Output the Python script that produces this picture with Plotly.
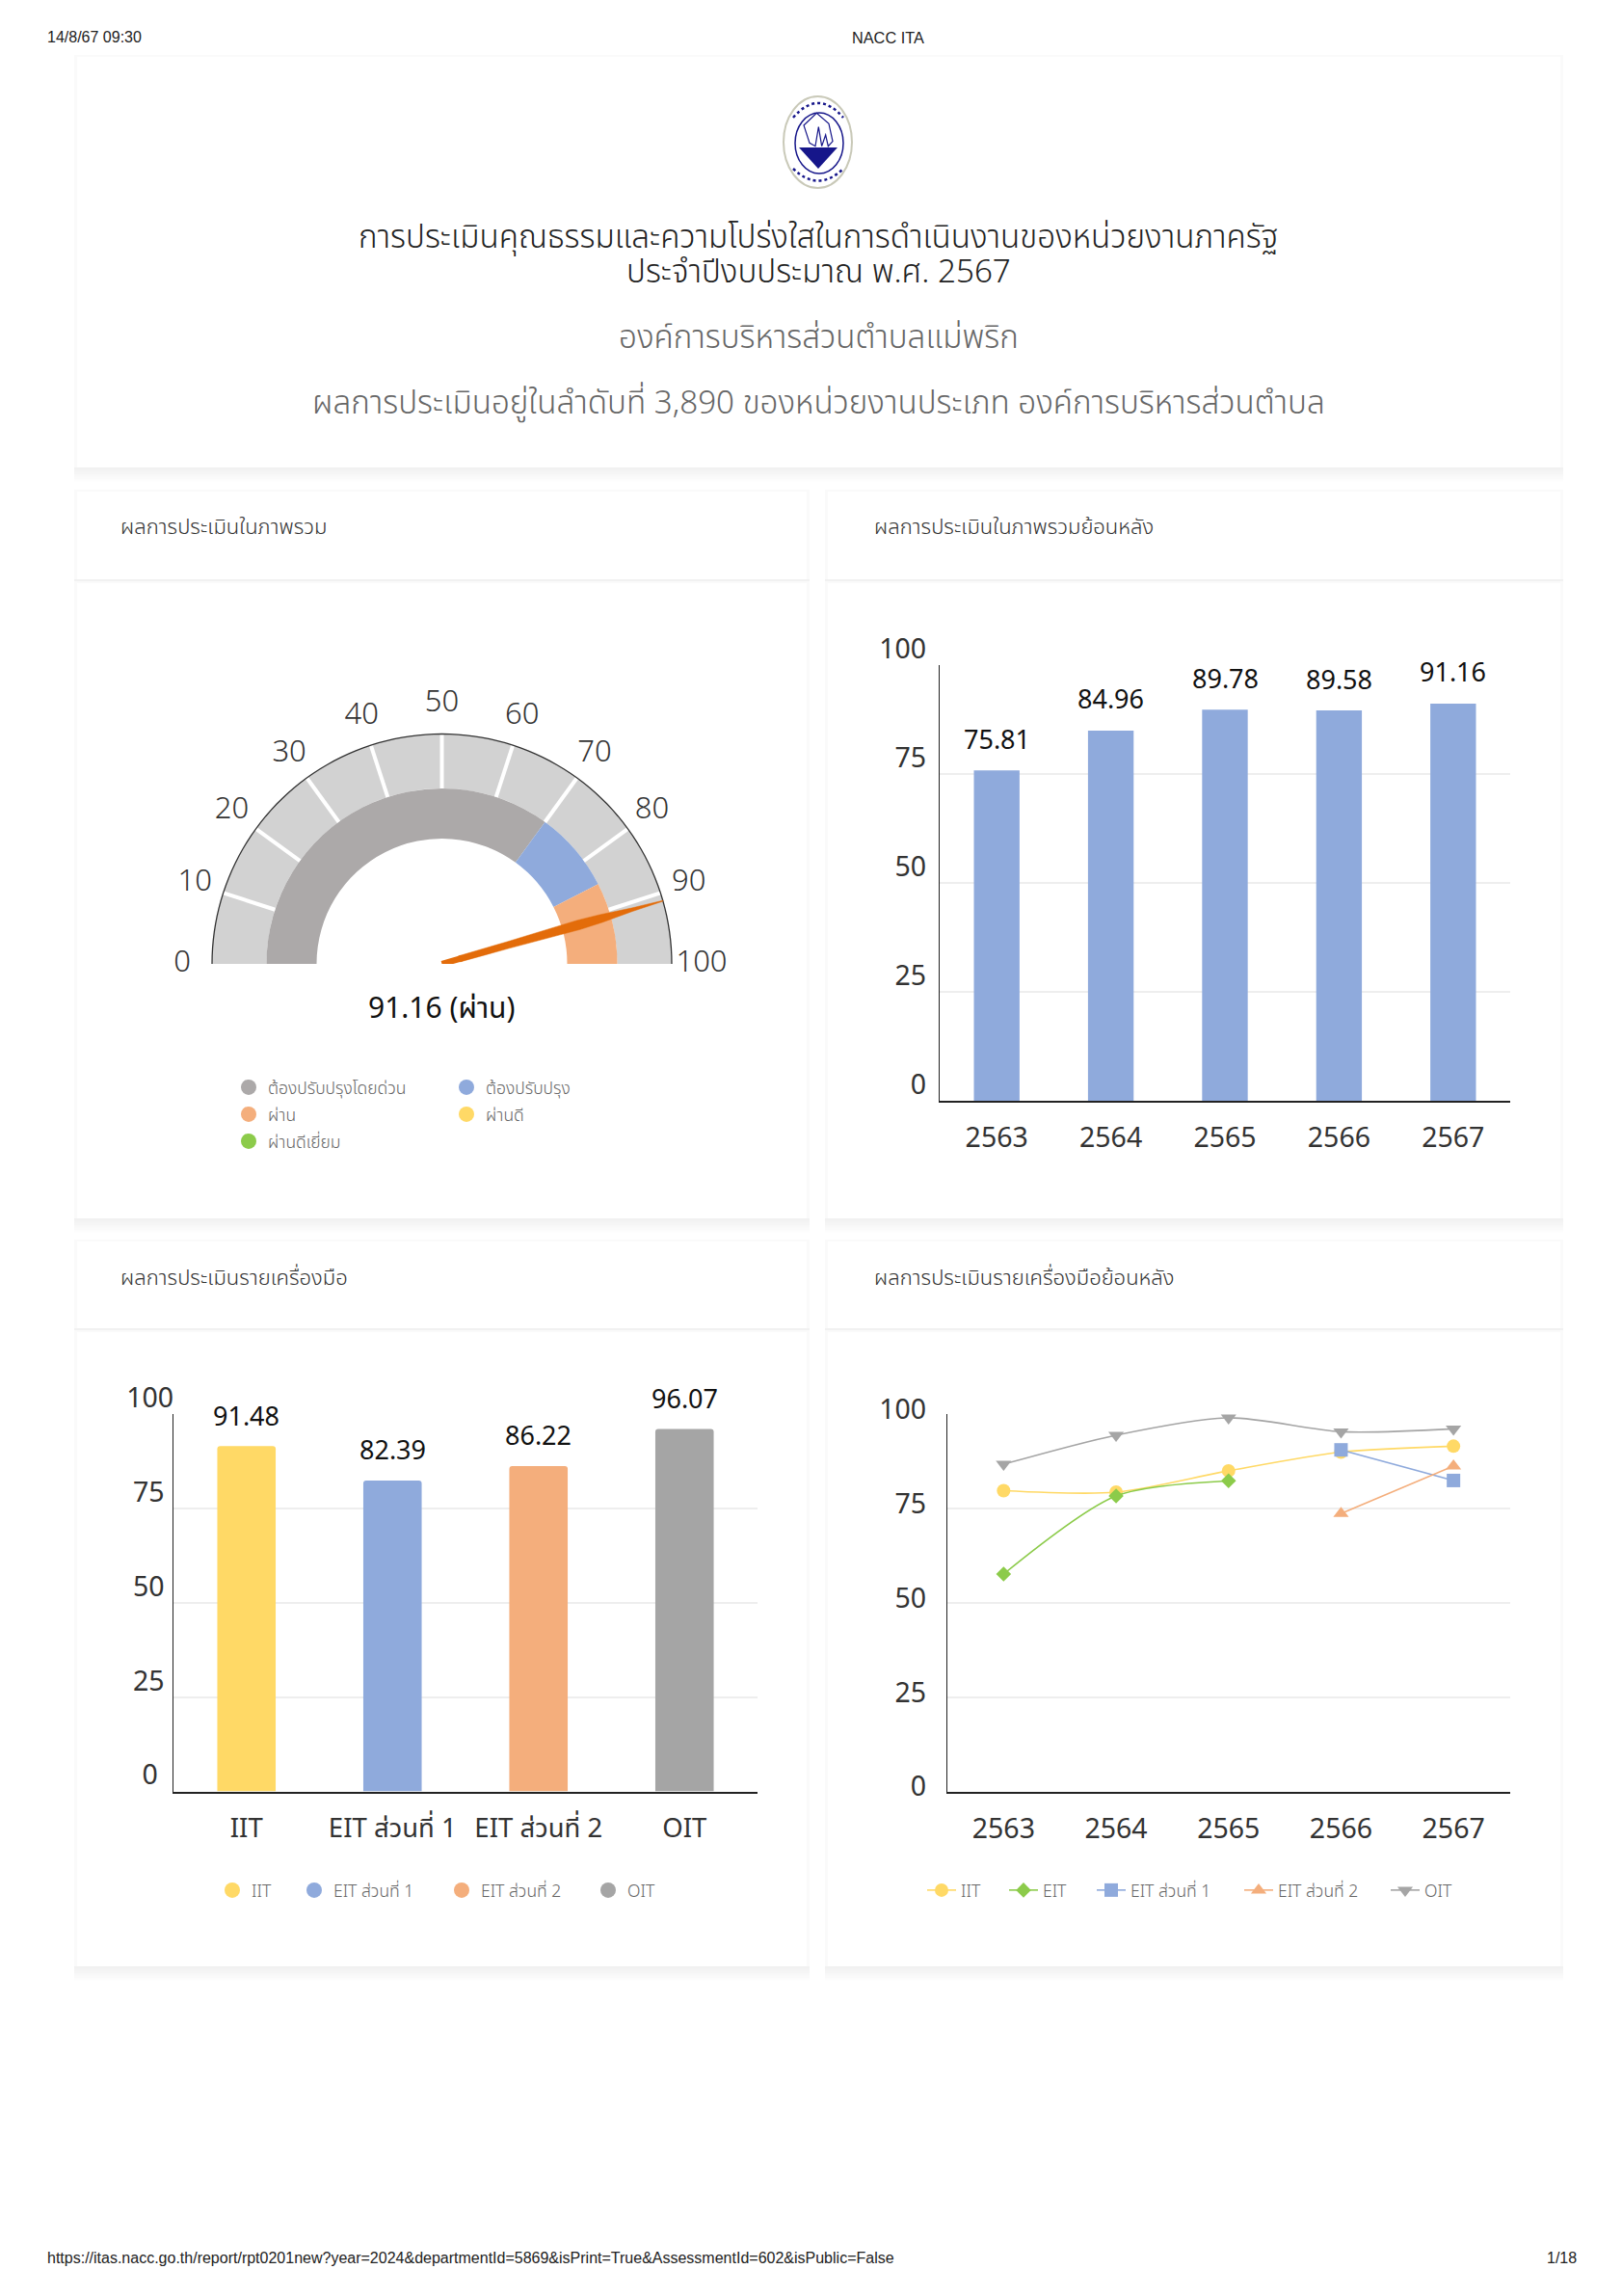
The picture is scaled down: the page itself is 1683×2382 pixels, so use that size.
import math
import plotly.graph_objects as go

W, H = 1683, 2382
FONT = '"Noto Sans Thai", "Noto Sans", sans-serif'
ARIAL = '"Liberation Sans", Arial, sans-serif'

# ---------- data ----------
gauge_value = 91.16
gauge_label = "91.16 (ผ่าน)"
gauge_ticks = [0, 10, 20, 30, 40, 50, 60, 70, 80, 90, 100]
gauge_band_starts = [0, 70, 85]
gauge_band_ends = [70, 85, 100]
gauge_legend_names = ["ต้องปรับปรุงโดยด่วน", "ต้องปรับปรุง", "ผ่าน", "ผ่านดี", "ผ่านดีเยี่ยม"]

years = ["2563", "2564", "2565", "2566", "2567"]
overall_values = [75.81, 84.96, 89.78, 89.58, 91.16]

tools = ["IIT", "EIT ส่วนที่ 1", "EIT ส่วนที่ 2", "OIT"]
tool_values = [91.48, 82.39, 86.22, 96.07]

hist_iit = [79.7, 79.3, 84.95, 89.9, 91.48]
hist_eit = [57.6, 78.3, 82.3, None, None]
hist_eit1 = [None, None, None, 90.5, 82.39]
hist_eit2 = [None, None, None, 73.6, 86.22]
hist_oit = [86.7, 94.4, 99.0, 95.3, 96.07]

y_ticks = [0, 25, 50, 75, 100]
y_labels = ["0", "25", "50", "75", "100"]
# the instrument chart centres its value labels: padded with digit-sized spaces
y_labels_centred = ["0\u2007", "25\u2004", "50\u2004", "75\u2004", "100"]

title_1 = "การประเมินคุณธรรมและความโปร่งใสในการดำเนินงานของหน่วยงานภาครัฐ"
title_2 = "ประจำปีงบประมาณ พ.ศ. 2567"
title_3 = "องค์การบริหารส่วนตำบลแม่พริก"
title_4 = "ผลการประเมินอยู่ในลำดับที่ 3,890 ของหน่วยงานประเภท องค์การบริหารส่วนตำบล"
card_titles = ["ผลการประเมินในภาพรวม", "ผลการประเมินในภาพรวมย้อนหลัง",
               "ผลการประเมินรายเครื่องมือ", "ผลการประเมินรายเครื่องมือย้อนหลัง"]

# ---------- colours ----------
YELLOW, BLUE, ORANGE, GREY = "#FFD966", "#8FAADC", "#F4AE7C", "#A5A5A5"
GREEN, DARK, LIGHT, NEEDLE = "#8CCB4A", "#ACA9A9", "#D2D2D2", "#E36C0A"
NAVY = "#16168A"
TXT = "#333333"


def px(x):
    return x / W


def py(y):
    return 1 - y / H


fig = go.Figure()
shapes = []
ann = []


def card(x0, y0, x1, y1):
    for i in range(9, 0, -1):
        v = 255 - int((10 - i) * 1.7)
        c = f"rgb({v},{v},{v})"
        shapes.append(dict(type="rect", xref="paper", yref="paper", layer="below",
                           x0=px(x0 - 3), x1=px(x1 + 3), y0=py(y1 + i * 1.7), y1=py(y1),
                           fillcolor=c, line_width=0))
    shapes.append(dict(type="rect", xref="paper", yref="paper", layer="below",
                       x0=px(x0 - 3), x1=px(x1 + 3), y0=py(y1), y1=py(y0 - 2),
                       fillcolor="#FAFAFA", line_width=0))
    shapes.append(dict(type="rect", xref="paper", yref="paper", layer="below",
                       x0=px(x0), x1=px(x1), y0=py(y1), y1=py(y0),
                       fillcolor="#FFFFFF", line_width=0))


L0, L1, R0, R1 = 80, 837, 859, 1619
card(L0, 59, R1, 485)
for (a, b) in ((L0, L1), (R0, R1)):
    card(a, 510, b, 601)
    card(a, 605, b, 1264)
    card(a, 1288, b, 1378)
    card(a, 1382, b, 2040)


def text(x, y, s, size, color=TXT, anchor="center", family=FONT, weight=None):
    f = dict(family=family, size=size, color=color)
    if weight:
        f["weight"] = weight
    ann.append(dict(xref="paper", yref="paper", x=px(x), y=py(y), text=s, showarrow=False,
                    xanchor=anchor, yanchor="middle", font=f))


text(47, 39, "14/8/67 09:30", 16, "#222222", "left", ARIAL)
text(921, 39, "NACC ITA", 16.3, "#222222", "center", ARIAL)
text(47, 2342, "https://itas.nacc.go.th/report/rpt0201new?year=2024&departmentId=5869&isPrint=True&AssessmentId=602&isPublic=False",
     16, "#222222", "left", ARIAL)
text(1638, 2342, "1/18", 16, "#222222", "right", ARIAL)

text(849.5, 247, title_1, 33.2, "#222222", weight=300)
text(849.5, 283, title_2, 33.2, "#222222", weight=300)
text(849.5, 351, title_3, 33.2, "#666666", weight=300)
text(849.5, 419, title_4, 33.2, "#666666", weight=300)
text(123, 547, card_titles[0], 22, anchor="left", weight=300)
text(905, 547, card_titles[1], 22, anchor="left", weight=300)
text(123, 1326, card_titles[2], 22, anchor="left", weight=300)
text(905, 1326, card_titles[3], 22, anchor="left", weight=300)


# ---------- logo ----------
def lg(X, Y):
    return f"{px(790 + X / 3)} {py(90 + Y / 3)}"


tree = [(132, 120), (172, 82), (210, 115), (222, 170), (208, 185), (200, 150), (188, 185),
        (178, 125), (168, 185), (150, 175)]
shapes += [
    dict(type="circle", xref="paper", yref="paper", x0=px(813), x1=px(884), y0=py(195), y1=py(100),
         fillcolor="#FFFFFF", line=dict(color="#C9C9B8", width=2)),
    dict(type="circle", xref="paper", yref="paper", x0=px(825), x1=px(875), y0=py(180), y1=py(117),
         fillcolor="#FFFFFF", line=dict(color=NAVY, width=1.5)),
    dict(type="path", xref="paper", yref="paper", fillcolor=NAVY, line_width=0,
         path=f"M {px(829)} {py(153)} L {px(869)} {py(153)} L {px(849)} {py(175)} Z"),
    dict(type="path", xref="paper", yref="paper", fillcolor="#FFFFFF", line=dict(color=NAVY, width=1.2),
         path="M " + " L ".join(lg(*p) for p in tree) + " Z"),
    dict(type="path", xref="paper", yref="paper", line=dict(color=NAVY, width=2.5, dash="dot"),
         path=f"M {px(823)} {py(122)} Q {px(849)} {py(92)} {px(875)} {py(122)}"),
    dict(type="path", xref="paper", yref="paper", line=dict(color=NAVY, width=2.5, dash="dot"),
         path=f"M {px(823)} {py(175)} Q {px(849)} {py(200)} {px(875)} {py(175)}"),
]

# ---------- gauge ----------
CX, CY, R = 458.5, 1000, 238.5
R_MID, R_IN = 182 / R, 130 / R
R_MAX = 1.2
to_deg = 1.8


def g(v):
    return v * to_deg


fig.add_trace(go.Barpolar(theta=[g(50)], r=[1 - R_MID], base=[R_MID], width=[g(100)],
                          marker=dict(color=LIGHT, line_width=0), showlegend=False, hoverinfo="skip"))
fig.add_trace(go.Barpolar(
    theta=[g((a + b) / 2) for a, b in zip(gauge_band_starts, gauge_band_ends)],
    r=[R_MID - R_IN] * 3, base=[R_IN] * 3,
    width=[g(b - a) for a, b in zip(gauge_band_starts, gauge_band_ends)],
    marker=dict(color=[DARK, BLUE, ORANGE], line_width=0), showlegend=False, hoverinfo="skip"))
tr, tt = [], []
for v in gauge_ticks[1:-1]:
    tr += [R_MID, 1, None]
    tt += [g(v), g(v), None]
fig.add_trace(go.Scatterpolar(r=tr, theta=tt, mode="lines", line=dict(color="#FFFFFF", width=4),
                              showlegend=False, hoverinfo="skip", connectgaps=False))
# outer rim of the dial
rim = [i * 1.0 for i in range(0, 181, 2)]
fig.add_trace(go.Scatterpolar(r=[1] * len(rim), theta=rim, mode="lines",
                              line=dict(color="#333333", width=1.3), showlegend=False, hoverinfo="skip"))
# tapered needle: a polygon plus a short stub reaching the hub
profile = [(0.08, 3.2), (0.3, 3.6), (0.62, 5.0), (0.72, 4.2), (0.86, 1.8), (1.0, 0.4)]
nr = [p[0] for p in profile] + [p[0] for p in reversed(profile)]
nt = [g(gauge_value) + math.degrees(math.atan(p[1] / (p[0] * R))) for p in profile] + \
     [g(gauge_value) - math.degrees(math.atan(p[1] / (p[0] * R))) for p in reversed(profile)]
fig.add_trace(go.Scatterpolar(r=nr + nr[:1], theta=nt + nt[:1], mode="lines", fill="toself", fillcolor=NEEDLE,
                              line=dict(color=NEEDLE, width=0.5), showlegend=False, hoverinfo="skip"))
fig.add_trace(go.Scatterpolar(r=[0, 0.09], theta=[g(gauge_value)] * 2, mode="lines", cliponaxis=False,
                              line=dict(color=NEEDLE, width=6.4), showlegend=False, hoverinfo="skip"))
# dial numbers
fig.add_trace(go.Scatterpolar(r=[1.13] * len(gauge_ticks), theta=[g(v) for v in gauge_ticks],
                              mode="text", text=[str(v) for v in gauge_ticks], textposition="middle center",
                              textfont=dict(family=FONT, size=31, color=TXT, weight=300), cliponaxis=False,
                              showlegend=False, hoverinfo="skip"))

layout_polar = dict(
    domain=dict(x=[px(CX - R * R_MAX), px(CX + R * R_MAX)], y=[py(CY), py(CY - R * R_MAX)]),
    sector=[0, 180],
    bgcolor="rgba(0,0,0,0)",
    radialaxis=dict(visible=False, range=[0, R_MAX]),
    angularaxis=dict(rotation=180, direction="clockwise", thetaunit="degrees",
                     showticklabels=False, ticks="", showgrid=False, showline=False),
)
text(CX, 1047, gauge_label, 30, "#111111")

legend_layout = {}
n_leg = 0


def legend_slot(x, y):
    global n_leg
    n_leg += 1
    key = "legend" if n_leg == 1 else f"legend{n_leg}"
    legend_layout[key] = dict(x=px(x), y=py(y), xanchor="left", yanchor="middle",
                              bgcolor="rgba(0,0,0,0)", borderwidth=0,
                              font=dict(family=FONT, size=17.5, color="#666666", weight=300))
    return key


def dummy(name, color, x, y):
    fig.add_trace(go.Scatter(x=[None], y=[None], name=name, mode="markers",
                             marker=dict(color=color, size=16, symbol="circle"),
                             legend=legend_slot(x, y), showlegend=True,
                             xaxis="x", yaxis="y"))


OFF = 21  # legend box left edge relative to marker centre
gpos = [(259, 1128), (485, 1128), (259, 1156), (485, 1156), (259, 1184)]
for nm, col, (lx, ly) in zip(gauge_legend_names, [DARK, BLUE, ORANGE, YELLOW, GREEN], gpos):
    dummy(nm, col, lx - OFF, ly)

# ---------- overall history ----------
fig.add_trace(go.Bar(x=years, y=overall_values, width=0.4, marker=dict(color=BLUE, line_width=0),
                     showlegend=False, xaxis="x", yaxis="y"))
for i, v in enumerate(overall_values):
    ann.append(dict(xref="x", yref="y", x=i, y=v, yshift=31, text=f"{v:.2f}", showarrow=False,
                    font=dict(family=FONT, size=27, color="#111111")))

# ---------- tools ----------
for i, (c, v, col) in enumerate(zip(tools, tool_values, [YELLOW, BLUE, ORANGE, GREY])):
    fig.add_trace(go.Bar(x=[c], y=[v], width=0.4, marker=dict(color=col, line_width=0, cornerradius=3),
                         showlegend=False, xaxis="x2", yaxis="y2"))
    ann.append(dict(xref="x2", yref="y2", x=i, y=v, yshift=30, text=f"{v:.2f}", showarrow=False,
                    font=dict(family=FONT, size=27, color="#111111")))
for nm, col, lx in zip(tools, [YELLOW, BLUE, ORANGE, GREY], [242, 327, 480, 632]):
    dummy(nm, col, lx - OFF, 1961)

# ---------- tool history ----------
series = [("IIT", hist_iit, YELLOW, "circle", 14, 976),
          ("EIT", hist_eit, GREEN, "diamond", 12, 1061),
          ("EIT ส่วนที่ 1", hist_eit1, BLUE, "square", 14, 1152),
          ("EIT ส่วนที่ 2", hist_eit2, ORANGE, "triangle-up", 14, 1305),
          ("OIT", hist_oit, GREY, "triangle-down", 14, 1457)]
for nm, vals, col, sym, sz, lx in series:
    fig.add_trace(go.Scatter(x=years, y=vals, name=nm, mode="lines+markers",
                             line=dict(color=col, width=1.6, shape="spline", smoothing=0.8),
                             marker=dict(color=col, symbol=sym, size=sz),
                             legend=legend_slot(lx - OFF + 2, 1961), cliponaxis=False,
                             xaxis="x3", yaxis="y3"))


def axes(x0, x1, y0, y1, shift, standoff, labels, xfont=28.5):
    xa = dict(domain=[px(x0), px(x1)], type="category", showgrid=False, zeroline=False,
              showline=True, linecolor="#222222", linewidth=2, ticks="", ticklabelstandoff=12,
              tickfont=dict(family=FONT, size=xfont, color=TXT), fixedrange=True)
    ya = dict(domain=[py(y1), py(y0)], range=[0, 100], tickmode="array", tickvals=y_ticks, ticktext=labels,
              showgrid=True, gridcolor="#EEEEEE", gridwidth=1.5, zeroline=False,
              showline=True, linecolor="#222222", linewidth=1.3, ticks="", ticklabelstandoff=standoff,
              ticklabelshift=-shift, tickfont=dict(family=FONT, size=28.5, color=TXT), fixedrange=True)
    return xa, ya


xa1, ya1 = axes(975, 1567, 690, 1142, 17, 7, y_labels)
xa2, ya2 = axes(180, 786, 1467, 1858.5, 17, -7, y_labels_centred, xfont=27.5)
xa3, ya3 = axes(983, 1566.5, 1467, 1858.5, 5, 15, y_labels)
xa1.update(range=[-0.5, 4.5])
xa3.update(range=[-0.5, 4.5])
xa2.update(range=[-0.5, 3.5])
ya2["anchor"] = "x2"
xa2["anchor"] = "y2"
ya3["anchor"] = "x3"
xa3["anchor"] = "y3"

fig.update_layout(
    width=W, height=H, autosize=False,
    margin=dict(l=0, r=0, t=0, b=0, pad=0, autoexpand=False),
    paper_bgcolor="#FFFFFF", plot_bgcolor="rgba(0,0,0,0)",
    barmode="overlay", bargap=0.6,
    polar=layout_polar,
    xaxis=xa1, yaxis=ya1, xaxis2=xa2, yaxis2=ya2, xaxis3=xa3, yaxis3=ya3,
    shapes=shapes, annotations=ann, hovermode=False,
    **legend_layout,
)

fig.write_html("out.html", config=dict(displayModeBar=False),
               post_script="document.body.style.margin='0';")
